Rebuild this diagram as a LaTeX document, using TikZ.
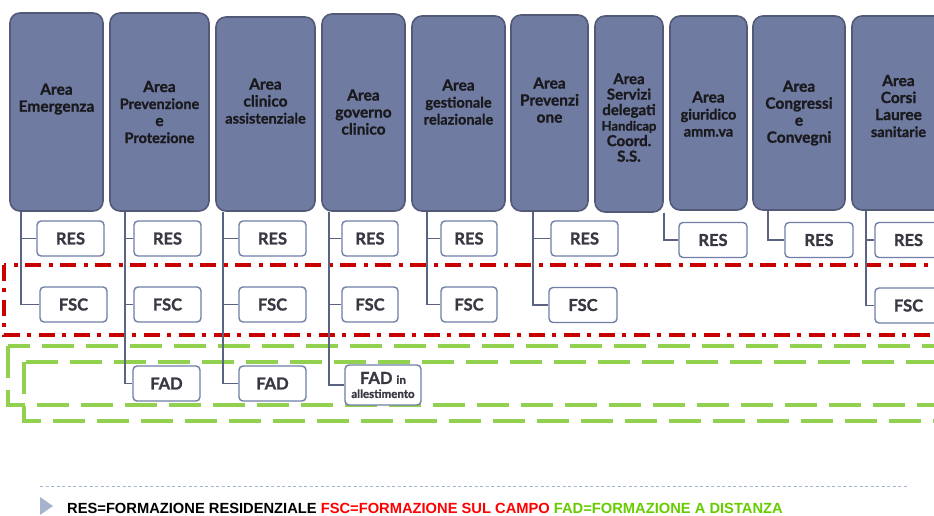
\documentclass[tikz,border=0pt]{standalone}
\usepackage{fontspec}
\setmainfont{Lato}[BoldFeatures={FakeBold=1.2}]
\newfontfamily\legendfont{Liberation Sans}
\definecolor{areafill}{RGB}{111,123,161}
\definecolor{areaedge}{RGB}{82,90,120}
\definecolor{areaink}{RGB}{26,26,30}
\definecolor{leafedge}{RGB}{112,126,168}
\definecolor{leafink}{RGB}{56,56,66}
\definecolor{connline}{RGB}{90,100,130}
\definecolor{fscred}{RGB}{200,0,0}
\definecolor{fadgreen}{RGB}{146,208,80}
\definecolor{legendred}{RGB}{255,0,0}
\definecolor{legendgreen}{RGB}{102,204,0}
\definecolor{rulegray}{RGB}{165,180,204}
\newcommand{\areasmall}[1]{{\fontsize{14.5}{16.5}\selectfont #1}}
\newcommand{\leafsmall}[1]{{\fontsize{11.5}{12}\selectfont #1}}
\begin{document}
\begin{tikzpicture}[x=1pt, y=-1pt,
  areabox/.style={draw=areaedge, line width=1.6pt, fill=areafill, rounded corners=10pt, inner sep=0pt},
  areatext/.style={font=\bfseries\fontsize{15.5}{17}\selectfont, text=areaink, align=center, inner sep=0pt},
  leafbox/.style={draw=leafedge, line width=1.4pt, fill=white, rounded corners=4pt, minimum height=35pt, inner sep=0pt,
    font=\bfseries\fontsize{16.5}{17}\selectfont, text=leafink, align=center},
  conn/.style={draw=connline, line width=1.5pt},
  redframe/.style={draw=fscred, line width=3.5pt, dash pattern=on 16pt off 7pt on 4pt off 8pt},
  greenframe/.style={draw=fadgreen, line width=3.2pt, dash pattern=on 32pt off 12pt}]
\useasboundingbox (0,0) rectangle (934,516);
\clip (0,0) rectangle (934,516);

% frames
\draw[redframe] (4,265) rectangle (950,335);
\draw[greenframe] (8,346) rectangle (950,405);
\draw[greenframe] (24,362) rectangle (950,421);

% Areas
\node[areabox, minimum width=93pt, minimum height=198pt] (emergenza) at (56.5,112) {};
\node[areabox, minimum width=99pt, minimum height=198pt] (prevprot) at (159.5,112) {};
\node[areabox, minimum width=99pt, minimum height=194pt] (clinass) at (265.5,114) {};
\node[areabox, minimum width=83pt, minimum height=197pt] (governo) at (363.5,112.5) {};
\node[areabox, minimum width=93pt, minimum height=195pt] (gestrel) at (458.5,113.5) {};
\node[areabox, minimum width=77pt, minimum height=196pt] (prevenz) at (549.5,113) {};
\node[areabox, minimum width=68pt, minimum height=196pt] (servizi) at (629,114) {};
\node[areabox, minimum width=77pt, minimum height=194pt] (giuridico) at (708.5,113) {};
\node[areabox, minimum width=92pt, minimum height=194pt] (congressi) at (799,113) {};
\node[areabox, minimum width=93pt, minimum height=194pt] (corsi) at (898.5,113) {};

% Area titles
\node[areatext] (emergenza-t) at (56.5,99) {Area\\Emergenza};
\node[areatext] (prevprot-t) at (159.5,112) {Area\\\areasmall{Prevenzione}\\e\\\areasmall{Protezione}};
\node[areatext] (clinass-t) at (265.5,101) {Area\\clinico\\\areasmall{assistenziale}};
\node[areatext] (governo-t) at (363.5,112) {Area\\governo\\clinico};
\node[areatext] (gestrel-t) at (458.5,102) {Area\\\areasmall{gestionale}\\\areasmall{relazionale}};
\node[areatext] (prevenz-t) at (549.5,100) {Area\\Prevenzi\\one};
\node[areatext, font=\bfseries\fontsize{15}{15.5}\selectfont] (servizi-t) at (629,117.5)
  {Area\\Servizi\\delegati\\{\fontsize{13}{15.5}\selectfont Handicap}\\Coord.\\S.S.};
\node[areatext] (giuridico-t) at (708.5,114) {Area\\\areasmall{giuridico}\\\areasmall{amm.va}};
\node[areatext] (congressi-t) at (799,113) {Area\\Congressi\\e\\Convegni};
\node[areatext] (corsi-t) at (898.5,106) {Area\\Corsi\\Lauree\\\areasmall{sanitarie}};

% RES
\node[leafbox, minimum width=67pt] (res1) at (70.5,238.5) {RES};
\node[leafbox, minimum width=67pt] (res2) at (167.5,238.5) {RES};
\node[leafbox, minimum width=67pt] (res3) at (272.5,238.5) {RES};
\node[leafbox, minimum width=56pt] (res4) at (370,238.5) {RES};
\node[leafbox, minimum width=56pt] (res5) at (469,238.5) {RES};
\node[leafbox, minimum width=67pt] (res6) at (584.5,238.5) {RES};
\node[leafbox, minimum width=68pt] (res7) at (713,240) {RES};
\node[leafbox, minimum width=68pt] (res8) at (819,240) {RES};
\node[leafbox, minimum width=67pt] (res9) at (908.5,240) {RES};

% FSC
\node[leafbox, minimum width=67pt] (fsc1) at (73.5,304.5) {FSC};
\node[leafbox, minimum width=67pt] (fsc2) at (167.5,304.5) {FSC};
\node[leafbox, minimum width=67pt] (fsc3) at (272.5,304.5) {FSC};
\node[leafbox, minimum width=56pt] (fsc4) at (370,304.5) {FSC};
\node[leafbox, minimum width=56pt] (fsc5) at (469,304.5) {FSC};
\node[leafbox, minimum width=68pt] (fsc6) at (583,305) {FSC};
\node[leafbox, minimum width=67pt] (fsc9) at (908.5,305.5) {FSC};

% FAD
\node[leafbox, minimum width=67pt] (fad2) at (166.5,383.5) {FAD};
\node[leafbox, minimum width=67pt] (fad3) at (272.5,383.5) {FAD};
\node[leafbox, minimum width=76pt, minimum height=40pt] (fad4) at (383,385) {FAD \leafsmall{in}\\[-3pt]\leafsmall{allestimento}};

% connectors
\draw[conn] ([xshift=12pt]emergenza.south west) |- (fsc1.west);
\draw[conn] ([xshift=12pt]emergenza.south west) |- (res1.west);
\draw[conn] ([xshift=16pt]prevprot.south west) |- (fad2.west);
\draw[conn] ([xshift=16pt]prevprot.south west) |- (fsc2.west);
\draw[conn] ([xshift=16pt]prevprot.south west) |- (res2.west);
\draw[conn] ([xshift=8pt]clinass.south west) |- (fad3.west);
\draw[conn] ([xshift=8pt]clinass.south west) |- (fsc3.west);
\draw[conn] ([xshift=8pt]clinass.south west) |- (res3.west);
\draw[conn] ([xshift=8pt]governo.south west) |- (fad4.west);
\draw[conn] ([xshift=8pt]governo.south west) |- (fsc4.west);
\draw[conn] ([xshift=8pt]governo.south west) |- (res4.west);
\draw[conn] ([xshift=16pt]gestrel.south west) |- (fsc5.west);
\draw[conn] ([xshift=16pt]gestrel.south west) |- (res5.west);
\draw[conn] ([xshift=23pt]prevenz.south west) |- (fsc6.west);
\draw[conn] ([xshift=23pt]prevenz.south west) |- (res6.west);
\draw[conn] (servizi.south east) |- (res7.west);
\draw[conn] ([xshift=16pt]congressi.south west) |- (res8.west);
\draw[conn] ([xshift=15pt]corsi.south west) |- (fsc9.west);
\draw[conn] ([xshift=15pt]corsi.south west) |- (res9.west);

% legend
\draw[rulegray, line width=0.8pt, dash pattern=on 3pt off 2.5pt] (40,486) -- (907,486);
\fill[rulegray] (40,497) -- (53,506) -- (40,515) -- cycle;
\node[anchor=west, inner sep=0pt, font=\legendfont\bfseries\fontsize{14.7}{16}\selectfont] (legend) at (67,508.5)
  {RES=FORMAZIONE RESIDENZIALE \textcolor{legendred}{FSC=FORMAZIONE SUL CAMPO} \textcolor{legendgreen}{FAD=FORMAZIONE A DISTANZA}};
\end{tikzpicture}
\end{document}
